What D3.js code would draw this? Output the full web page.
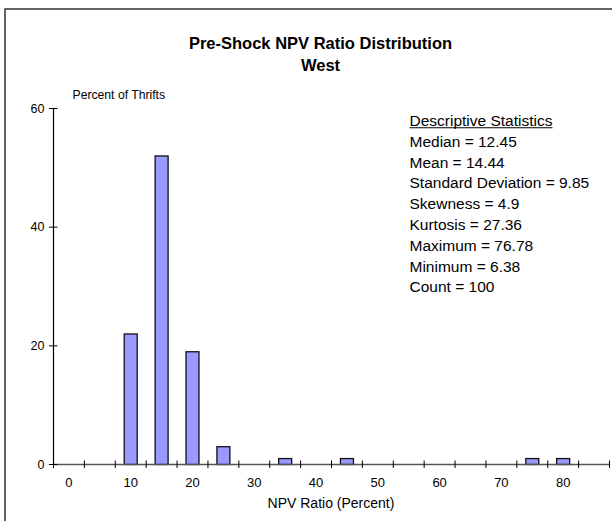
<!DOCTYPE html>
<html>
<head>
<meta charset="utf-8">
<script src="https://cdn.jsdelivr.net/npm/d3@7"></script>
<style>
  html, body { margin: 0; padding: 0; background: #fff; }
  svg { display: block; font-family: "Liberation Sans", Arial, sans-serif; }
</style>
</head>
<body>
<svg id="chart" width="612" height="521"></svg>
<script>
// Histogram bins (lower edge of each 5-point NPV ratio bin)
const categories = [0, 5, 10, 15, 20, 25, 30, 35, 40, 45, 50, 55, 60, 65, 70, 75, 80, 85];
// Percent of thrifts falling in each bin
const percentValues = [0, 0, 22, 52, 19, 3, 0, 1, 0, 1, 0, 0, 0, 0, 0, 1, 1, 0];
// Only every other bin carries a label
const xTickLabels = ["0", "10", "20", "30", "40", "50", "60", "70", "80"];
const yTicks = [0, 20, 40, 60];
const statsTitle = "Descriptive Statistics";
const statsLines = [
  "Median = 12.45",
  "Mean = 14.44",
  "Standard Deviation = 9.85",
  "Skewness = 4.9",
  "Kurtosis = 27.36",
  "Maximum = 76.78",
  "Minimum = 6.38",
  "Count = 100"
];

const svg = d3.select("#chart");

// Outer frame
svg.append("rect")
  .attr("x", 5).attr("y", 9).attr("width", 640).attr("height", 540)
  .attr("fill", "none").attr("stroke", "#333").attr("stroke-width", 1.5);

// Titles
svg.append("text").attr("x", 320.5).attr("y", 48.5)
  .attr("text-anchor", "middle").attr("font-weight", "bold").attr("font-size", 16.5)
  .text("Pre-Shock NPV Ratio Distribution");
svg.append("text").attr("x", 320.5).attr("y", 70.5)
  .attr("text-anchor", "middle").attr("font-weight", "bold").attr("font-size", 16.5)
  .text("West");

// Scales
const x = d3.scaleBand().domain(categories).range([53.5, 609.5]).padding(0);
const y = d3.scaleLinear().domain([0, 60]).range([464.5, 108.5]);

// Bars
const barW = x.bandwidth() * 0.42;
svg.append("g").selectAll("rect")
  .data(categories.map((c, i) => ({ c, v: percentValues[i] })).filter(d => d.v > 0))
  .join("rect")
  .attr("x", d => x(d.c) + (x.bandwidth() - barW) / 2)
  .attr("y", d => y(d.v))
  .attr("width", barW)
  .attr("height", d => y(0) - y(d.v))
  .attr("fill", "#9999FF")
  .attr("stroke", "#111")
  .attr("stroke-width", 1.3);

// X axis: baseline, crossing ticks at bin edges, labels at every other bin centre
const xAxis = svg.append("g");
xAxis.append("line")
  .attr("x1", x.range()[0]).attr("x2", x.range()[1])
  .attr("y1", y(0)).attr("y2", y(0))
  .attr("stroke", "#555").attr("stroke-width", 1.3);
const edges = categories.map(c => x(c)).concat([x.range()[1]]);
xAxis.selectAll("line.tick").data(edges).join("line")
  .attr("class", "tick")
  .attr("x1", d => d).attr("x2", d => d)
  .attr("y1", y(0) - 4).attr("y2", y(0) + 3.5)
  .attr("stroke", "#000").attr("stroke-width", 1);
xAxis.selectAll("text").data(xTickLabels).join("text")
  .attr("x", d => x(+d) + x.bandwidth() / 2)
  .attr("y", 487)
  .attr("text-anchor", "middle").attr("font-size", 13)
  .text(d => d);
svg.append("text").attr("x", 331).attr("y", 508)
  .attr("text-anchor", "middle").attr("font-size", 14)
  .text("NPV Ratio (Percent)");

// Y axis
const yAxis = svg.append("g");
yAxis.append("line")
  .attr("x1", 53.5).attr("x2", 53.5)
  .attr("y1", y(60)).attr("y2", y(0))
  .attr("stroke", "#000").attr("stroke-width", 1.2);
yAxis.selectAll("line.tick").data(yTicks).join("line")
  .attr("class", "tick")
  .attr("x1", 49).attr("x2", 57.5)
  .attr("y1", d => y(d)).attr("y2", d => y(d))
  .attr("stroke", "#000").attr("stroke-width", 1);
yAxis.selectAll("text").data(yTicks).join("text")
  .attr("x", 44.5).attr("y", d => y(d) + 4.3)
  .attr("text-anchor", "end").attr("font-size", 12.5)
  .text(d => d);
svg.append("text").attr("x", 72.5).attr("y", 99)
  .attr("font-size", 12.2)
  .text("Percent of Thrifts");

// Descriptive statistics block
const statsX = 409.5, statsY0 = 126, lineH = 20.8;
const head = svg.append("text").attr("x", statsX).attr("y", statsY0)
  .attr("font-size", 15.5).text(statsTitle);
const headW = head.node().getComputedTextLength();
svg.append("line")
  .attr("x1", statsX).attr("x2", statsX + headW)
  .attr("y1", statsY0 + 1.8).attr("y2", statsY0 + 1.8)
  .attr("stroke", "#000").attr("stroke-width", 1.1);
svg.append("g").selectAll("text").data(statsLines).join("text")
  .attr("x", statsX)
  .attr("y", (d, i) => statsY0 + lineH * (i + 1))
  .attr("font-size", 15.5)
  .text(d => d);
</script>
</body>
</html>
